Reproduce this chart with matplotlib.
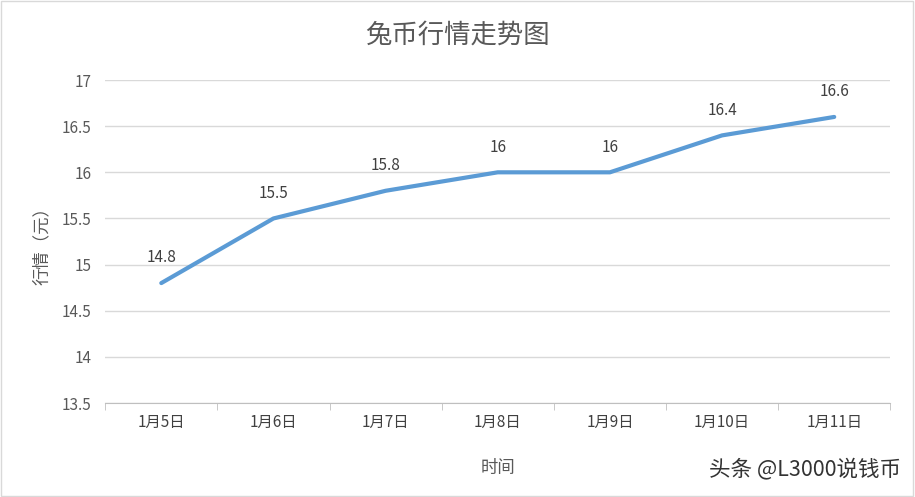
import matplotlib
matplotlib.use("Agg")
import matplotlib.pyplot as plt
from matplotlib.patches import Rectangle

plt.rcParams['font.family'] = ['Noto Sans CJK SC', 'DejaVu Sans']

categories = ["1月5日", "1月6日", "1月7日", "1月8日", "1月9日", "1月10日", "1月11日"]
values = [14.8, 15.5, 15.8, 16, 16, 16.4, 16.6]
labels = ["14.8", "15.5", "15.8", "16", "16", "16.4", "16.6"]
yticks = [13.5, 14, 14.5, 15, 15.5, 16, 16.5, 17]

fig = plt.figure(figsize=(9.15, 4.97), dpi=100)
ax = fig.add_axes([0.115, 0.189, 0.858, 0.650])
x = list(range(len(categories)))
ax.plot(x, values, color="#5B9BD5", lw=3, solid_capstyle="round", zorder=3)
for xi, v, l in zip(x, values, labels):
    ax.annotate(l, (xi, v), xytext=(0, 12), textcoords="offset points",
                ha="center", va="bottom", fontsize=11, color="#404040")
ax.set_xlim(-0.5, len(categories) - 0.5)
ax.set_ylim(13.5, 17)
ax.set_yticks(yticks)
ax.set_yticklabels([f"{t:g}" for t in yticks], fontsize=11, color="#595959")
ax.set_xticks(x)
ax.set_xticklabels(categories, fontsize=11, color="#404040")
ax.set_xticks([i - 0.5 for i in range(len(categories) + 1)], minor=True)
ax.tick_params(axis="x", which="major", length=0, pad=8)
ax.tick_params(axis="x", which="minor", length=5, color="#BFBFBF")
ax.tick_params(axis="y", length=0, pad=10)
ax.grid(axis="y", color="#D9D9D9", lw=1)
ax.set_axisbelow(True)
for s in ["top", "right", "left"]:
    ax.spines[s].set_visible(False)
ax.spines["bottom"].set_color("#BFBFBF")
ax.set_xlabel("时间", fontsize=12.5, color="#595959", labelpad=20)
ax.set_ylabel("行情（元）", fontsize=12.5, color="#595959", labelpad=8)
fig.text(0.5, 0.93, "兔币行情走势图", ha="center", va="center", fontsize=19, color="#595959")
fig.text(0.985, 0.055, "头条 @L3000说钱币", ha="right", va="center", fontsize=15.5, color="#333333")
fig.patches.append(Rectangle((0.001, 0.002), 0.997, 0.996, transform=fig.transFigure,
                             fill=False, edgecolor="#D9D9D9", lw=1))
fig.savefig("out.png", dpi=100)
